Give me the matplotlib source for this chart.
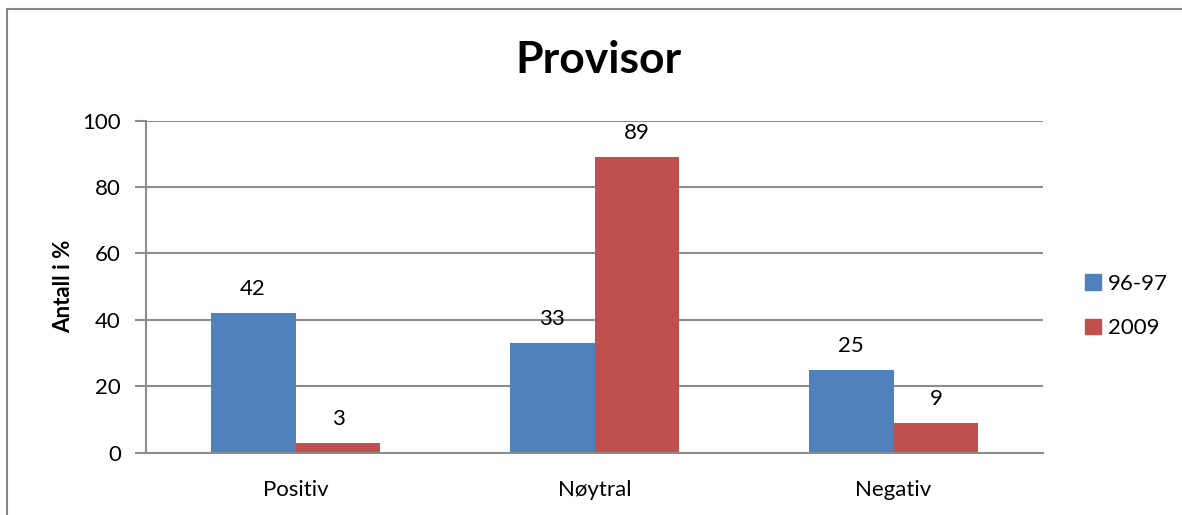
import matplotlib
matplotlib.use("Agg")
import matplotlib.pyplot as plt
from matplotlib.patches import Patch
import numpy as np

categories = ["Positiv", "Nøytral", "Negativ"]
series_names = ["96-97", "2009"]
values_9697 = [42, 33, 25]
values_2009 = [3, 89, 9]
y_ticks = [0, 20, 40, 60, 80, 100]

plt.rcParams['font.family'] = ['Lato', 'DejaVu Sans']

W, H = 1182, 515
fig = plt.figure(figsize=(W / 100, H / 100), dpi=100)

# plot area in pixel coordinates
left, right, top, bottom = 146, 1043, 120.7, 452.7
ax = fig.add_axes([left / W, 1 - bottom / H, (right - left) / W, (bottom - top) / H])

x = np.arange(len(categories))
bw = 0.284
blue = "#4F81BD"
red = "#C0504D"
grid_c = "#8C8C8C"
fs = 16

b1 = ax.bar(x - bw / 2, values_9697, bw, color=blue, zorder=3)
b2 = ax.bar(x + bw / 2, values_2009, bw, color=red, zorder=3)

for rects, vals in ((b1, values_9697), (b2, values_2009)):
    for r, v in zip(rects, vals):
        ax.annotate(str(v), (r.get_x() + r.get_width() / 2, v),
                    xytext=(0, 10), textcoords="offset points",
                    ha="center", va="bottom", fontsize=fs, color="black")

ax.set_xlim(-0.5, len(categories) - 0.5)
ax.set_ylim(0, 100)
ax.set_yticks(y_ticks)
ax.set_yticklabels([str(t) for t in y_ticks], fontsize=fs)
ax.set_xticks(x)
ax.set_xticklabels(categories, fontsize=fs)
ax.tick_params(axis="x", length=0, pad=20)
ax.tick_params(axis="y", length=8, width=1.5, color=grid_c, pad=10)

ax.yaxis.grid(True, color=grid_c, linewidth=1.5, zorder=0)
for s in ("top", "right"):
    ax.spines[s].set_visible(False)
ax.spines["left"].set_color(grid_c)
ax.spines["left"].set_linewidth(1.5)
ax.spines["bottom"].set_color(grid_c)
ax.spines["bottom"].set_linewidth(1.5)
ax.spines["bottom"].set_zorder(4)

ax.set_ylabel("Antall i %", fontsize=fs, fontweight="bold", labelpad=6)

fig.text(598 / W, 1 - 60 / H, "Provisor", ha="center", va="center",
         fontsize=32, fontweight="bold")

handles = [Patch(color=blue), Patch(color=red)]
fig.legend(handles, series_names, loc="center left",
           bbox_to_anchor=(1065 / W, 1 - 306 / H), frameon=False,
           fontsize=fs, handlelength=0.7, handleheight=0.7,
           handletextpad=0.35, labelspacing=1.1)

# outer chart border (top and left visible)
fig.add_artist(plt.Line2D([7 / W, 1], [1 - 8.5 / H, 1 - 8.5 / H],
                          color="#888888", linewidth=1.5, transform=fig.transFigure))
fig.add_artist(plt.Line2D([7 / W, 7 / W], [0, 1 - 8.5 / H],
                          color="#888888", linewidth=1.5, transform=fig.transFigure))

fig.savefig("out.png", dpi=100)
